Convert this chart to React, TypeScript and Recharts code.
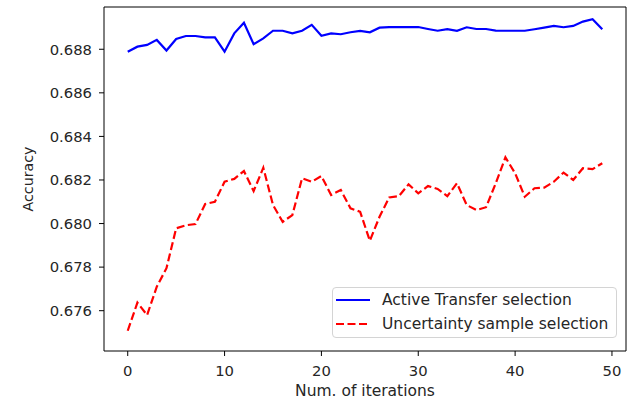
import { Legend, Line, LineChart, ReferenceLine, XAxis, YAxis } from "recharts";

// iteration index 0..49
const iterations = Array.from({ length: 50 }, (_, i) => i);

const activeTransfer = [
  0.68789, 0.68812, 0.6882, 0.68843, 0.68794, 0.68847, 0.68861, 0.68861, 0.68855, 0.68855,
  0.68789, 0.68873, 0.68922, 0.68823, 0.6885, 0.68885, 0.68885, 0.68873, 0.68885, 0.68912,
  0.68862, 0.68873, 0.68869, 0.68878, 0.68884, 0.68878, 0.68899, 0.68902, 0.68902, 0.68902,
  0.68902, 0.68893, 0.68885, 0.68892, 0.68885, 0.68901, 0.68893, 0.68893, 0.68886, 0.68885,
  0.68885, 0.68885, 0.68892, 0.68899, 0.68907, 0.68901, 0.68907, 0.68927, 0.68938, 0.68892,
];

const uncertainty = [
  0.67508, 0.67637, 0.6758, 0.6771, 0.67795, 0.67978, 0.67992, 0.67998, 0.6809, 0.681,
  0.68192, 0.68205, 0.68241, 0.68149, 0.68256, 0.68085, 0.68008, 0.68039, 0.68208, 0.68192,
  0.68218, 0.68131, 0.68154, 0.6807, 0.68054, 0.67921, 0.68031, 0.6812, 0.68126, 0.6818,
  0.68139, 0.68172, 0.68159, 0.68126, 0.68185, 0.68085, 0.68062, 0.68075, 0.68185, 0.68304,
  0.68231, 0.68123, 0.68162, 0.68165, 0.68192, 0.68234, 0.682, 0.68254, 0.6825, 0.68277,
];

const xTicks = [0, 10, 20, 30, 40, 50];
const yTicks = [0.676, 0.678, 0.68, 0.682, 0.684, 0.686, 0.688];

const X_MIN = -2.45;
const X_MAX = 51.45;
const Y_MIN = 0.67415;
const Y_MAX = 0.68994;

const data = iterations.map((iter, i) => ({
  iter,
  active: activeTransfer[i],
  uncertainty: uncertainty[i],
}));

const FONT = "'DejaVu Sans', sans-serif";
const TEXT = "#262626";

function LegendBox({ payload }: any) {
  return (
    <div
      style={{
        width: 285,
        height: 51,
        boxSizing: "border-box",
        border: "1px solid #d4d4d4",
        borderRadius: 4,
        background: "rgba(255,255,255,0.8)",
        fontFamily: FONT,
        fontSize: 15.5,
        color: TEXT,
        paddingTop: 0,
      }}
    >
      {(payload || []).map((p: any) => (
        <div key={p.value} style={{ display: "flex", alignItems: "center", height: 24, lineHeight: "24px" }}>
          <svg width={46} height={10} style={{ marginLeft: 3, flexShrink: 0 }}>
            <line
              x1={0}
              x2={34}
              y1={5}
              y2={5}
              stroke={p.color}
              strokeWidth={2.2}
              strokeDasharray={p.payload?.strokeDasharray}
            />
          </svg>
          <span style={{ whiteSpace: "nowrap" }}>{p.value}</span>
        </div>
      ))}
    </div>
  );
}

export default function App() {
  return (
    <div style={{ position: "absolute", left: 0, top: 0, background: "#fff" }}>
      <LineChart
        width={629}
        height={399}
        data={data}
        margin={{ top: 7, right: 3, left: 0, bottom: 0 }}
      >
        <XAxis
          dataKey="iter"
          type="number"
          domain={[X_MIN, X_MAX]}
          ticks={xTicks}
          allowDataOverflow
          height={48}
          tickSize={5}
          tickMargin={9}
          stroke="#000"
          tick={{ fill: TEXT, fontSize: 14.8, fontFamily: FONT }}
          label={{
            value: "Num. of iterations",
            position: "insideBottom",
            offset: 3,
            fill: TEXT,
            fontSize: 15.5,
            fontFamily: FONT,
          }}
        />
        <YAxis
          type="number"
          domain={[Y_MIN, Y_MAX]}
          ticks={yTicks}
          allowDataOverflow
          width={104}
          tickSize={5}
          tickMargin={7}
          stroke="#000"
          tickFormatter={(v: number) => v.toFixed(3)}
          tick={{ fill: TEXT, fontSize: 14.8, fontFamily: FONT }}
          label={{
            content: (props: any) => {
              const vb = props.viewBox || { x: 0, y: 7, width: 104, height: 344 };
              const cx = vb.x + 32.5;
              const cy = vb.y + vb.height / 2;
              return (
                <text
                  x={cx}
                  y={cy}
                  transform={`rotate(-90 ${cx} ${cy})`}
                  textAnchor="middle"
                  fill={TEXT}
                  fontSize={14.2}
                  fontFamily={FONT}
                >
                  Accuracy
                </text>
              );
            },
          }}
        />
        <ReferenceLine y={Y_MAX} stroke="#000" strokeWidth={1} ifOverflow="extendDomain" />
        <ReferenceLine x={X_MAX} stroke="#000" strokeWidth={1} ifOverflow="extendDomain" />
        <Line
          dataKey="active"
          name="Active Transfer selection"
          stroke="#0000ff"
          strokeWidth={2.2}
          dot={false}
          activeDot={false}
          isAnimationActive={false}
        />
        <Line
          dataKey="uncertainty"
          name="Uncertainty sample selection"
          stroke="#ff0000"
          strokeWidth={2.2}
          strokeDasharray="8 3.5"
          dot={false}
          activeDot={false}
          isAnimationActive={false}
        />
        <Legend
          layout="vertical"
          align="center"
          verticalAlign="middle"
          content={<LegendBox />}
          wrapperStyle={{ position: "absolute", left: 332, top: 287, width: 285, height: 51 }}
        />
      </LineChart>
    </div>
  );
}
